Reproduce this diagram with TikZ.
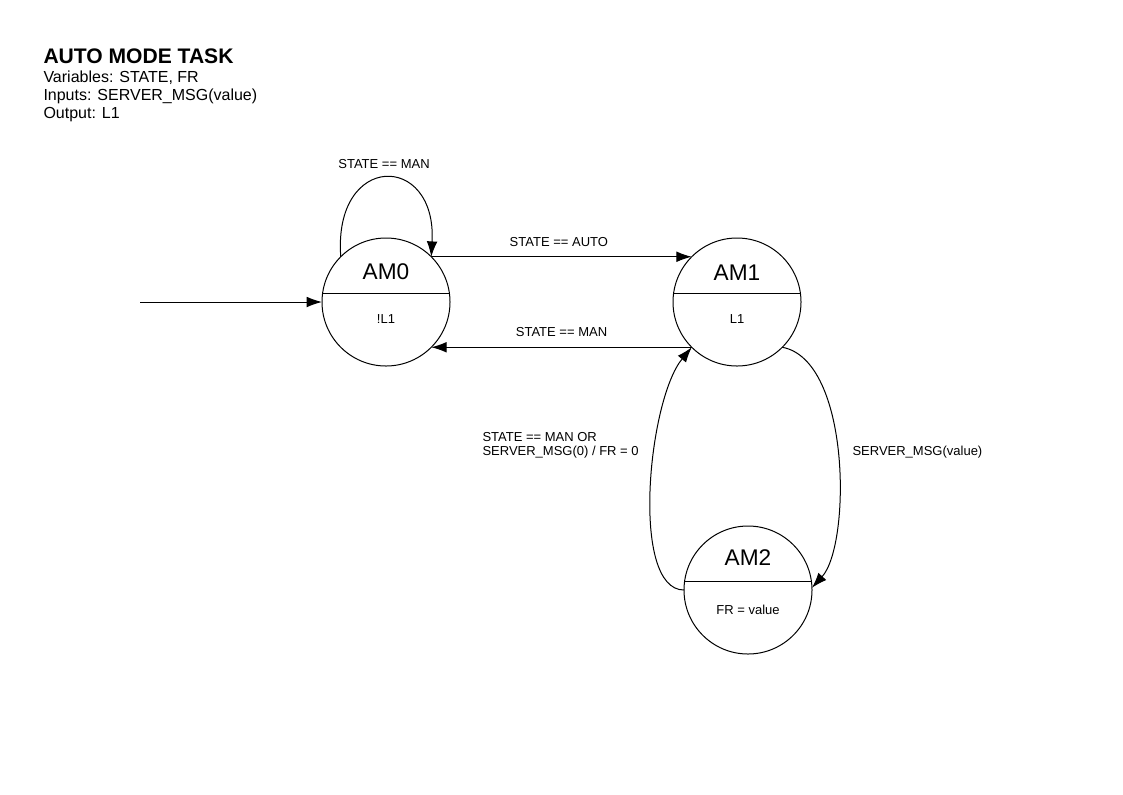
\documentclass[tikz,border=0pt]{standalone}
\usepackage{fontspec}
\setmainfont{Liberation Sans}
\usetikzlibrary{arrows.meta}
\begin{document}
\begin{tikzpicture}[x=0.75pt,y=-0.75pt,line width=0.75pt,
    >={Latex[length=11.5pt,width=8pt]},
    state/.style={draw,circle,minimum size=96pt,inner sep=0pt,outer sep=0pt},
    sname/.style={anchor=base,font=\fontsize{17}{19}\selectfont},
    sout/.style={anchor=base,font=\fontsize{9.75}{11}\selectfont},
    trans/.style={font=\fontsize{9.75}{10.5}\selectfont},
    head/.style={anchor=base west,inner sep=0pt,font=\fontsize{12}{14}\selectfont}]
                \useasboundingbox (0,0) rectangle (1123,794);
                \node[head,font=\bfseries\fontsize{15.8}{18}\selectfont](TITLE) at (43,63) {AUTO MODE TASK};
                \node[head](VARS) at (43,82) {Variables: STATE, FR};
                \node[head](INS) at (43,100) {Inputs: SERVER\_MSG(value)};
                \node[head](OUTS) at (43,118) {Output: L1};
                \node[state](AM0) at (386,302) {};
                \node[state](AM1) at (737,302) {};
                \node[state](AM2) at (748,590) {};
                \draw (AM0.172) -- (AM0.8);
                \draw (AM1.172) -- (AM1.8);
                \draw (AM2.172) -- (AM2.8);
                \node[sname](AM0N) at (386,279) {AM0};
                \node[sname](AM1N) at (737,280) {AM1};
                \node[sname](AM2N) at (748,565) {AM2};
                \node[sout](AM0O) at (386,323) {!L1};
                \node[sout](AM1O) at (737,323) {L1};
                \node[sout](AM2O) at (748,614) {FR = value};
                \coordinate (INIT) at (140,302);
                \draw[->] (INIT) -- (AM0.180);
                \draw[->] (AM0.135) .. controls (333,152) and (437,152) .. (AM0.45);
                \node[trans,anchor=base](LOOPL) at (384,168) {STATE == MAN};
                \draw[->] (AM0.45) -- (AM1.135) node[trans,midway,above=4pt,xshift=-2pt]{STATE == AUTO};
                \draw[->] (AM1.225) -- (AM0.-45) node[trans,midway,above=4pt,xshift=0pt]{STATE == MAN};
                \draw[->] (AM1.-45) .. controls (851,360) and (851,545) .. (AM2.2);
                \node[trans,anchor=base west,inner sep=0pt](SRVL) at (852,455) {SERVER\_MSG(value)};
                \draw[->] (AM2.180) .. controls (630,590) and (648,400) .. (AM1.225);
                \node[trans,anchor=west,align=left,inner sep=0pt](BACKL) at (482,445) {STATE == MAN OR\\SERVER\_MSG(0) / FR = 0};
\end{tikzpicture}
\end{document}
